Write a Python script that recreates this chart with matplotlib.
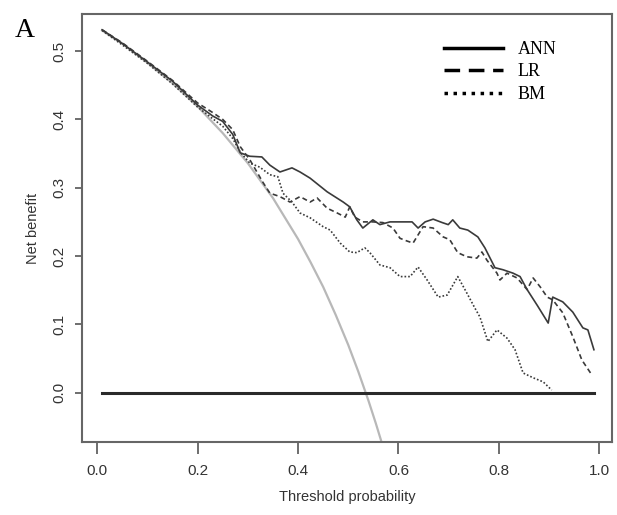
import numpy as np
import matplotlib.pyplot as plt
from matplotlib.lines import Line2D

plt.rcParams["font.family"] = ["Liberation Sans", "DejaVu Sans"]

# thresholds / net benefit
t_ann = [0.01, 0.05, 0.10, 0.15, 0.20, 0.23, 0.25, 0.27, 0.285, 0.304, 0.328, 0.344,
         0.364, 0.388, 0.404, 0.424, 0.458, 0.490, 0.503, 0.517, 0.529, 0.549, 0.563,
         0.583, 0.603, 0.627, 0.639, 0.653, 0.669, 0.687, 0.699, 0.708, 0.722, 0.738,
         0.758, 0.772, 0.792, 0.808, 0.828, 0.842, 0.856, 0.877, 0.898, 0.907, 0.927,
         0.947, 0.967, 0.977, 0.989]
nb_ann = [0.531, 0.511, 0.484, 0.456, 0.421, 0.405, 0.397, 0.378, 0.351, 0.346, 0.345, 0.333,
          0.323, 0.329, 0.323, 0.314, 0.294, 0.279, 0.272, 0.253, 0.241, 0.253, 0.246,
          0.250, 0.250, 0.250, 0.241, 0.250, 0.254, 0.249, 0.246, 0.253, 0.241, 0.238,
          0.228, 0.212, 0.183, 0.180, 0.175, 0.170, 0.151, 0.127, 0.102, 0.140, 0.133,
          0.118, 0.095, 0.092, 0.063]

t_lr = [0.01, 0.05, 0.10, 0.15, 0.20, 0.23, 0.25, 0.27, 0.285, 0.304, 0.330, 0.344,
        0.364, 0.384, 0.404, 0.424, 0.438, 0.458, 0.478, 0.494, 0.503, 0.513, 0.529,
        0.549, 0.569, 0.589, 0.603, 0.617, 0.629, 0.649, 0.669, 0.689, 0.702, 0.718,
        0.736, 0.756, 0.766, 0.776, 0.796, 0.802, 0.816, 0.836, 0.856, 0.868, 0.882,
        0.896, 0.907, 0.927, 0.947, 0.965, 0.985]
nb_lr = [0.531, 0.512, 0.485, 0.457, 0.424, 0.410, 0.400, 0.385, 0.360, 0.341, 0.308, 0.292,
         0.287, 0.279, 0.287, 0.279, 0.285, 0.270, 0.263, 0.257, 0.272, 0.257, 0.250,
         0.250, 0.249, 0.241, 0.226, 0.222, 0.219, 0.243, 0.241, 0.228, 0.224, 0.205,
         0.199, 0.197, 0.206, 0.194, 0.175, 0.165, 0.175, 0.168, 0.151, 0.168, 0.155,
         0.140, 0.136, 0.117, 0.082, 0.048, 0.026]

t_bm = [0.01, 0.05, 0.10, 0.15, 0.20, 0.23, 0.25, 0.27, 0.285, 0.304, 0.324, 0.344,
        0.360, 0.370, 0.388, 0.404, 0.424, 0.450, 0.464, 0.484, 0.503, 0.517, 0.533,
        0.543, 0.563, 0.583, 0.603, 0.623, 0.639, 0.657, 0.679, 0.697, 0.718, 0.736,
        0.752, 0.762, 0.778, 0.796, 0.816, 0.832, 0.848, 0.868, 0.888, 0.905]
nb_bm = [0.530, 0.509, 0.482, 0.452, 0.418, 0.401, 0.390, 0.372, 0.352, 0.336, 0.330, 0.319,
         0.316, 0.292, 0.279, 0.263, 0.256, 0.243, 0.238, 0.219, 0.206, 0.205, 0.212,
         0.205, 0.187, 0.183, 0.170, 0.170, 0.184, 0.165, 0.140, 0.143, 0.170, 0.146,
         0.124, 0.111, 0.075, 0.092, 0.080, 0.063, 0.029, 0.022, 0.016, 0.004]

# treat all (grey) and treat none
t_all = [0.01, 0.05, 0.10, 0.15, 0.20, 0.25, 0.30, 0.35, 0.40, 0.425, 0.45, 0.475,
         0.50, 0.52, 0.54, 0.555, 0.57]
nb_all = [0.530, 0.511, 0.483, 0.453, 0.419, 0.380, 0.336, 0.285, 0.225, 0.191, 0.155,
          0.114, 0.070, 0.031, -0.011, -0.045, -0.081]
t_none = [0.01, 0.99]
nb_none = [0.0, 0.0]

xticks = [0.0, 0.2, 0.4, 0.6, 0.8, 1.0]
yticks = [0.0, 0.1, 0.2, 0.3, 0.4, 0.5]

fig = plt.figure(figsize=(6.17, 5.15), dpi=100)
ax = fig.add_axes([0.1329, 0.1417, 0.859, 0.831])

line_col = "#3a3a3a"
ax.plot(t_all, nb_all, color="#b8b8b8", lw=1.6)
ax.plot(t_none, nb_none, color="#2a2a2a", lw=2.2)
ax.plot(t_ann, nb_ann, color=line_col, lw=1.2)
ax.plot(t_lr, nb_lr, color=line_col, lw=1.2, ls=(0, (3, 2)))
ax.plot(t_bm, nb_bm, color=line_col, lw=1.2, ls=(0, (1, 1.2)))

ax.set_xlim(-0.03, 1.025)
ax.set_ylim(-0.072, 0.554)
ax.set_xticks(xticks)
ax.set_yticks(yticks)
ax.set_xticklabels([f"{v:.1f}" for v in xticks])
ax.set_yticklabels([f"{v:.1f}" for v in yticks], rotation=90, va="center")

txt_col = "#333333"
ax.tick_params(axis="x", length=8.5, width=1.2, color="#555555", pad=7,
               labelsize=11, labelcolor=txt_col)
ax.tick_params(axis="y", length=5, width=1.2, color="#555555", pad=6,
               labelsize=11, labelcolor=txt_col)
for s in ax.spines.values():
    s.set_color("#666666")
    s.set_linewidth(1.5)

ax.set_xlabel("Threshold probability", fontsize=10.5, color=txt_col, labelpad=9)
ax.set_ylabel("Net benefit", fontsize=10.5, color=txt_col, labelpad=9)

handles = [
    Line2D([], [], color="black", lw=2.5),
    Line2D([], [], color="black", lw=2.5, ls=(0, (4.5, 2.5))),
    Line2D([], [], color="black", lw=2.5, ls=(0, (1, 1.6))),
]
ax.legend(handles, ["ANN", "LR", "BM"], loc="upper left",
          bbox_to_anchor=(0.652, 0.975), frameon=False, handlelength=3.3,
          handletextpad=0.8, labelspacing=0.3,
          prop={"family": "Liberation Serif", "size": 13})

fig.text(0.024, 0.965, "A", fontsize=20, family="Liberation Serif", va="top")

fig.savefig("out.png", dpi=100)
